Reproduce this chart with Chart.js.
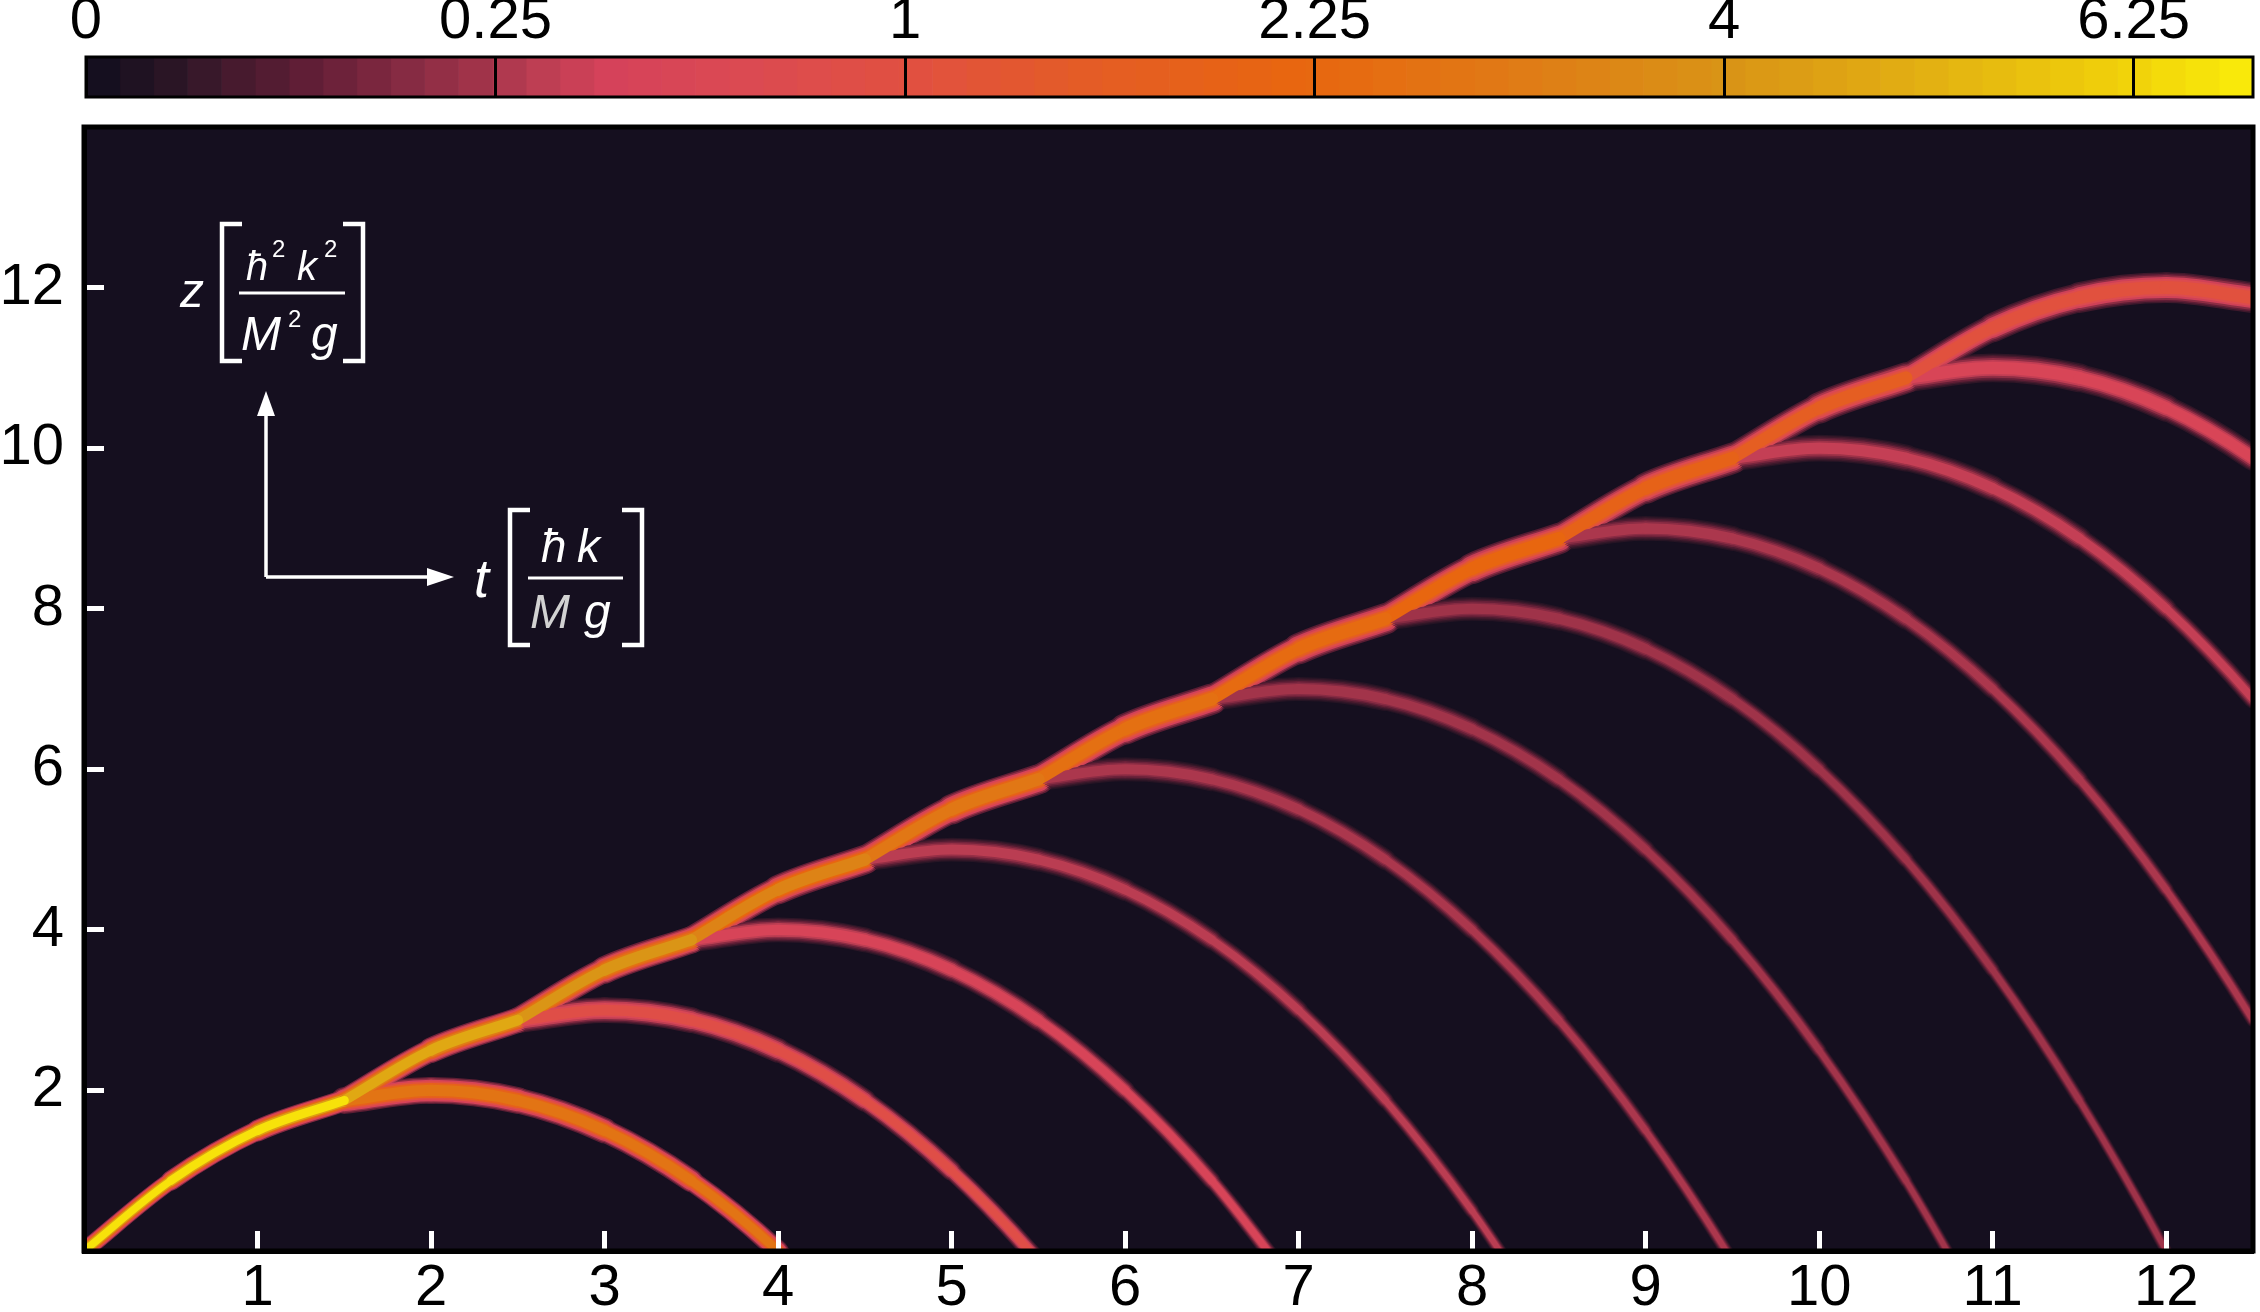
<!DOCTYPE html>
<html>
<head>
<meta charset="utf-8">
<script src="https://cdn.jsdelivr.net/npm/chart.js@4.4.1/dist/chart.umd.min.js"></script>
<style>
  html, body { margin: 0; padding: 0; background: #fff; }
  #wrap { position: relative; width: 2260px; height: 1312px; }
  #main { position: absolute; left: 0; top: 0; width: 2260px; height: 1312px; }
  #bar { position: absolute; left: 0; top: 0; width: 2260px; height: 105px; }
</style>
</head>
<body>
<div id="wrap">
  <div id="main"><canvas id="plot"></canvas></div>
  <div id="bar"><canvas id="cbar"></canvas></div>
</div>
<script>
// axis ticks
const xTicks = [1, 2, 3, 4, 5, 6, 7, 8, 9, 10, 11, 12];
const yTicks = [2, 4, 6, 8, 10, 12];
const colorTicks = [0, 0.25, 1, 2.25, 4, 6.25];
const colorMax = 7;

// upper path, one piece per parabola (apex z = 2 .. 12), [t, z]
const main2 = [[0, 0], [0.5, 0.875], [1, 1.5], [1.5, 1.875]];
const main3 = [[1.5, 1.875], [2, 2.5], [2.5, 2.875]];
const main4 = [[2.5, 2.875], [3, 3.5], [3.5, 3.875]];
const main5 = [[3.5, 3.875], [4, 4.5], [4.5, 4.875]];
const main6 = [[4.5, 4.875], [5, 5.5], [5.5, 5.875]];
const main7 = [[5.5, 5.875], [6, 6.5], [6.5, 6.875]];
const main8 = [[6.5, 6.875], [7, 7.5], [7.5, 7.875]];
const main9 = [[7.5, 7.875], [8, 8.5], [8.5, 8.875]];
const main10 = [[8.5, 8.875], [9, 9.5], [9.5, 9.875]];
const main11 = [[9.5, 9.875], [10, 10.5], [10.5, 10.875]];
const main12 = [[10.5, 10.875], [11, 11.5], [11.5, 11.875], [12, 12], [12.5, 11.875]];
const mainPeak = [6.8, 4.8, 4.1, 3.4, 2.9, 2.6, 2.4, 2.2, 1.9, 1.6, 1.05];

// falling branches left behind at each kick, [t, z]
const branch2 = [[1.5, 1.875], [2, 2], [2.5, 1.875], [3, 1.5], [3.5, 0.875], [4, 0], [4.5, -1.125]];
const branch3 = [[2.5, 2.875], [3, 3], [3.5, 2.875], [4, 2.5], [4.5, 1.875], [5, 1], [5.5, -0.125], [6, -1.5]];
const branch4 = [[3.5, 3.875], [4, 4], [4.5, 3.875], [5, 3.5], [5.5, 2.875], [6, 2], [6.5, 0.875], [7, -0.5]];
const branch5 = [[4.5, 4.875], [5, 5], [5.5, 4.875], [6, 4.5], [6.5, 3.875], [7, 3], [7.5, 1.875], [8, 0.5], [8.5, -1.125]];
const branch6 = [[5.5, 5.875], [6, 6], [6.5, 5.875], [7, 5.5], [7.5, 4.875], [8, 4], [8.5, 2.875], [9, 1.5], [9.5, -0.125], [10, -2]];
const branch7 = [[6.5, 6.875], [7, 7], [7.5, 6.875], [8, 6.5], [8.5, 5.875], [9, 5], [9.5, 3.875], [10, 2.5], [10.5, 0.875], [11, -1]];
const branch8 = [[7.5, 7.875], [8, 8], [8.5, 7.875], [9, 7.5], [9.5, 6.875], [10, 6], [10.5, 4.875], [11, 3.5], [11.5, 1.875], [12, 0], [12.5, -2.125]];
const branch9 = [[8.5, 8.875], [9, 9], [9.5, 8.875], [10, 8.5], [10.5, 7.875], [11, 7], [11.5, 5.875], [12, 4.5], [12.5, 2.875], [13, 1]];
const branch10 = [[9.5, 9.875], [10, 10], [10.5, 9.875], [11, 9.5], [11.5, 8.875], [12, 8], [12.5, 6.875], [13, 5.5]];
const branch11 = [[10.5, 10.875], [11, 11], [11.5, 10.875], [12, 10.5], [12.5, 9.875], [13, 9]];
const branchPeak = [2.8, 0.85, 0.45, 0.28, 0.24, 0.22, 0.21, 0.24, 0.32, 0.48];

const mainPieces = [main2, main3, main4, main5, main6, main7, main8, main9, main10, main11, main12];
const branchPieces = [branch2, branch3, branch4, branch5, branch6, branch7, branch8, branch9, branch10, branch11];

// vertical thickness of each trace in px (style)
const mainWidth = [23, 27, 29, 31, 32, 33, 33, 33, 33, 33, 31];
const branchWidth = [27, 26, 25, 24, 24, 24, 24, 25, 27, 29];

// colour map, position along the (square-root) colour bar
const cmapStops = [
  [0, '#150f1f'], [0.03, '#281525'], [0.06, '#441a2d'], [0.1, '#641f37'],
  [0.14, '#842a42'], [0.175, '#a03349'], [0.2, '#ba3d52'], [0.24, '#d6425a'],
  [0.3, '#db4a52'], [0.38, '#e15040'], [0.46, '#e45c26'], [0.56, '#e8660f'],
  [0.66, '#e07a16'], [0.76, '#d99316'], [0.86, '#e3b212'], [0.945, '#f0d00a'], [1, '#f9e90a']
];
function rgbOf(h) {
  return [parseInt(h.slice(1, 3), 16), parseInt(h.slice(3, 5), 16), parseInt(h.slice(5, 7), 16)];
}
function cmapS(s) {
  s = Math.max(0, Math.min(1, s));
  for (let i = 1; i < cmapStops.length; i++) {
    if (s <= cmapStops[i][0]) {
      const a = cmapStops[i - 1], b = cmapStops[i];
      const f = (s - a[0]) / (b[0] - a[0]);
      const ca = rgbOf(a[1]), cb = rgbOf(b[1]);
      return 'rgb(' + ca.map((c, k) => Math.round(c + (cb[k] - c) * f)).join(',') + ')';
    }
  }
  return cmapStops[cmapStops.length - 1][1];
}
function cmap(v) {
  return cmapS(Math.sqrt(Math.max(v, 0) / colorMax));
}

// each trace is a few stacked strokes: bright core, soft edges
const layerWidth = [1.0, 0.9, 0.8, 0.68, 0.55, 0.42];
const layerLevel = [0.02, 0.06, 0.15, 0.35, 0.65, 1.0];

function traceSets(points, peak, width, isMain) {
  return layerWidth.map((lw, k) => {
    const w = width * lw;
    return {
      data: points,
      borderColor: cmap(peak * layerLevel[k]),
      borderWidth: w,
      borderCapStyle: 'round',
      borderJoinStyle: 'round',
      cubicInterpolationMode: 'monotone',
      pointRadius: 0,
      fill: false,
      clip: 0,
      order: (layerWidth.length - k) * 10 + (isMain ? 0 : 5),
      segment: {
        // keep the vertical thickness constant, as in a density map
        borderWidth: c => {
          const dx = c.p1.x - c.p0.x, dy = c.p1.y - c.p0.y;
          const len = Math.hypot(dx, dy) || 1;
          return w * Math.abs(dx) / len;
        }
      }
    };
  });
}

let datasets = [];
mainPieces.forEach((p, i) => { datasets = datasets.concat(traceSets(p, mainPeak[i], mainWidth[i], true)); });
branchPieces.forEach((p, i) => { datasets = datasets.concat(traceSets(p, branchPeak[i], branchWidth[i], false)); });

Chart.defaults.font.family = '"Liberation Sans", Arial, sans-serif';
Chart.defaults.color = '#000';

const plotBack = {
  id: 'plotBack',
  beforeDraw(chart) {
    const {ctx, chartArea: a} = chart;
    ctx.save();
    ctx.fillStyle = cmap(0);
    ctx.fillRect(a.left, a.top, a.right - a.left, a.bottom - a.top);
    ctx.restore();
  }
};

const frame = {
  id: 'frame',
  afterDraw(chart, args, opts) {
    const {ctx, chartArea: a} = chart;
    ctx.save();
    ctx.strokeStyle = '#000';
    ctx.lineWidth = opts.width || 3;
    ctx.strokeRect(a.left, a.top, a.right - a.left, a.bottom - a.top);
    ctx.restore();
  }
};

function bracket(ctx, x, y0, y1, dir) {
  const w = 20 * dir;
  ctx.lineWidth = 4.5;
  ctx.beginPath();
  ctx.moveTo(x + w, y0);
  ctx.lineTo(x, y0);
  ctx.lineTo(x, y1);
  ctx.lineTo(x + w, y1);
  ctx.stroke();
}
function rule(ctx, x0, x1, y) {
  ctx.lineWidth = 3;
  ctx.beginPath();
  ctx.moveTo(x0, y);
  ctx.lineTo(x1, y);
  ctx.stroke();
}

// axis key drawn inside the plot (white)
const axisKey = {
  id: 'axisKey',
  afterDraw(chart) {
    const ctx = chart.ctx;
    const it = s => 'italic ' + s + 'px "Liberation Sans"';
    const up = s => s + 'px "Liberation Sans"';
    ctx.save();
    ctx.fillStyle = '#fff';
    ctx.strokeStyle = '#fff';
    ctx.textAlign = 'left';
    ctx.textBaseline = 'alphabetic';
    ctx.lineCap = 'butt';

    // z [hbar^2 k^2 / M^2 g]
    ctx.font = it(48);
    ctx.fillText('z', 180, 307);
    bracket(ctx, 222, 224, 361, 1);
    bracket(ctx, 363, 224, 361, -1);
    ctx.font = it(40);
    ctx.fillText('ħ', 246, 280);
    ctx.fillText('k', 297, 280);
    ctx.font = up(24);
    ctx.fillText('2', 272, 257);
    ctx.fillText('2', 324, 257);
    rule(ctx, 239, 345, 293);
    ctx.font = it(48);
    ctx.fillText('M', 241, 350);
    ctx.fillText('g', 311, 350);
    ctx.font = up(24);
    ctx.fillText('2', 288, 327);

    // arrows
    ctx.lineWidth = 3.5;
    ctx.beginPath();
    ctx.moveTo(266, 577);
    ctx.lineTo(266, 410);
    ctx.moveTo(266, 577);
    ctx.lineTo(432, 577);
    ctx.stroke();
    ctx.beginPath();
    ctx.moveTo(266, 391);
    ctx.lineTo(257, 416);
    ctx.lineTo(275, 416);
    ctx.closePath();
    ctx.fill();
    ctx.beginPath();
    ctx.moveTo(454, 577);
    ctx.lineTo(427, 568);
    ctx.lineTo(427, 586);
    ctx.closePath();
    ctx.fill();

    // t [hbar k / M g]
    ctx.font = it(54);
    ctx.fillText('t', 474, 597);
    bracket(ctx, 510, 510, 645, 1);
    bracket(ctx, 642, 510, 645, -1);
    ctx.font = it(46);
    ctx.fillText('ħ', 541, 562);
    ctx.fillText('k', 577, 562);
    rule(ctx, 528, 623, 578);
    ctx.font = it(48);
    ctx.fillStyle = '#d2d2d2';
    ctx.fillText('M', 530, 628);
    ctx.fillStyle = '#fff';
    ctx.fillText('g', 584, 628);
    ctx.restore();
  }
};

const tickFont = {family: '"Liberation Sans", Arial, sans-serif', size: 58};

new Chart(document.getElementById('plot'), {
  type: 'line',
  data: {datasets: datasets},
  options: {
    responsive: true,
    maintainAspectRatio: false,
    animation: false,
    events: [],
    layout: {padding: {top: 127, right: 7, left: 0, bottom: 0}},
    plugins: {legend: {display: false}, tooltip: {enabled: false}, frame: {width: 5}},
    scales: {
      x: {
        type: 'linear', min: 0, max: 12.5,
        afterBuildTicks: s => { s.ticks = xTicks.map(v => ({value: v})); },
        afterFit: s => { s.height = 61; s.paddingLeft = 0; s.paddingRight = 0; },
        ticks: {font: tickFont, color: '#000', padding: 23, maxRotation: 0, autoSkip: false},
        grid: {drawOnChartArea: false, drawTicks: true, tickLength: -20, tickWidth: 5, tickColor: '#fff', z: 1},
        border: {display: true, color: '#000', width: 5, z: 1}
      },
      y: {
        type: 'linear', min: 0, max: 14,
        afterBuildTicks: s => { s.ticks = yTicks.map(v => ({value: v})); },
        afterFit: s => { s.width = 84; s.paddingTop = 0; s.paddingBottom = 0; },
        ticks: {font: tickFont, color: '#000', padding: 40, autoSkip: false},
        grid: {drawOnChartArea: false, drawTicks: true, tickLength: -20, tickWidth: 5, tickColor: '#fff', z: 1},
        border: {display: true, color: '#000', width: 5, z: 1}
      }
    }
  },
  plugins: [plotBack, frame, axisKey]
});

// colour bar: 64 flat steps, evenly spaced on the square-root axis
const barSteps = 64;
const barMax = Math.sqrt(colorMax);
const barSets = [];
for (let i = 0; i < barSteps; i++) {
  barSets.push({
    data: [barMax / barSteps],
    backgroundColor: cmapS(i / (barSteps - 1)),
    borderWidth: 0,
    barPercentage: 1,
    categoryPercentage: 1
  });
}

new Chart(document.getElementById('cbar'), {
  type: 'bar',
  data: {labels: [''], datasets: barSets},
  options: {
    indexAxis: 'y',
    responsive: true,
    maintainAspectRatio: false,
    animation: false,
    events: [],
    layout: {padding: {left: 86, right: 7, top: 0, bottom: 8}},
    plugins: {legend: {display: false}, tooltip: {enabled: false}, frame: {width: 3}},
    scales: {
      x: {
        type: 'linear', position: 'top', stacked: true, min: 0, max: barMax,
        afterBuildTicks: s => { s.ticks = colorTicks.map(v => ({value: Math.sqrt(v)})); },
        afterFit: s => { s.height = 57; s.paddingLeft = 0; s.paddingRight = 0; },
        ticks: {font: tickFont, color: '#000', padding: 0, maxRotation: 0, autoSkip: false,
                callback: (v, i) => String(colorTicks[i])},
        grid: {drawOnChartArea: true, drawTicks: false, color: '#000', lineWidth: 3, z: 1},
        border: {display: false}
      },
      y: {display: false, stacked: true}
    }
  },
  plugins: [frame]
});
</script>
</body>
</html>
